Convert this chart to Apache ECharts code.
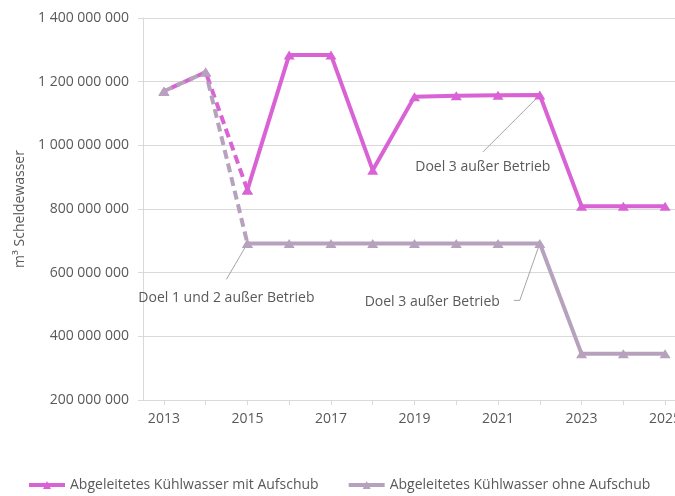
<!DOCTYPE html>
<html>
<head>
<meta charset="utf-8">
<script src="https://cdn.jsdelivr.net/npm/echarts@6/dist/echarts.min.js"></script>
<style>
  html, body { margin: 0; padding: 0; background: #fff; }
  #main { width: 675px; height: 496px; }
</style>
</head>
<body>
<div id="main"></div>
<script>
var years = ['2013', '2014', '2015', '2016', '2017', '2018', '2019', '2020', '2021', '2022', '2023', '2024', '2025'];
var mitAufschub = [1170e6, 1230e6, 860e6, 1284e6, 1284e6, 922e6, 1153e6, 1156e6, 1157e6, 1158e6, 809e6, 809e6, 809e6];
var ohneAufschub = [1170e6, 1230e6, 692e6, 692e6, 692e6, 692e6, 692e6, 692e6, 692e6, 692e6, 345e6, 345e6, 345e6];
var dashedUntil = 2; // index of 2015, end of the dashed part
var nameMit = 'Abgeleitetes Kühlwasser mit Aufschub';
var nameOhne = 'Abgeleitetes Kühlwasser ohne Aufschub';
var notes = [
  { series: 'ohne', index: 2, text: 'Doel 1 und 2 außer Betrieb' },
  { series: 'ohne', index: 9, text: 'Doel 3 außer Betrieb' },
  { series: 'mit', index: 9, text: 'Doel 3 außer Betrieb' }
];

var MAGENTA = '#d963d5';
var GREY = '#b7a2bd';
var FONT = 'Open Sans';

function part(arr, dashed) {
  return arr.map(function (v, i) {
    if (dashed) return i <= dashedUntil ? v : '-';
    return i >= dashedUntil ? v : '-';
  });
}

function fmt(v) {
  return String(v).replace(/\B(?=(\d{3})+(?!\d))/g, ' ');
}

function lineSeries(name, color, data, dashed, offset) {
  return {
    name: name,
    type: 'line',
    data: data,
    symbol: 'triangle',
    symbolSize: [11, 9],
    showAllSymbol: true,
    connectNulls: false,
    color: color,
    itemStyle: { color: color },
    lineStyle: {
      color: color,
      width: 4,
      type: dashed ? [9, 5] : 'solid',
      dashOffset: offset || 0,
      cap: 'butt'
    },
    emphasis: { disabled: true },
    animation: false
  };
}

var chart = echarts.init(document.getElementById('main'), null, { renderer: 'canvas' });

var option = {
  backgroundColor: '#ffffff',
  textStyle: { fontFamily: FONT },
  // plot runs past the right edge, like the cropped original
  grid: { left: 143, width: 543, top: 18, bottom: 96, outerBoundsMode: 'none', containLabel: false },
  legend: {
    data: [nameMit, nameOhne],
    left: 27,
    top: 478,
    padding: 0,
    itemWidth: 36,
    itemHeight: 10,
    itemGap: 28,
    lineStyle: { width: 4 },
    textStyle: { color: '#595959', fontSize: 14, fontFamily: FONT }
  },
  xAxis: {
    type: 'category',
    data: years,
    boundaryGap: true,
    axisLine: { lineStyle: { color: '#d9d9d9', width: 1 } },
    axisTick: { show: true, alignWithLabel: true, interval: 0, length: 5, lineStyle: { color: '#d9d9d9' } },
    axisLabel: { interval: 1, color: '#595959', fontSize: 14, margin: 12, fontFamily: FONT },
    splitLine: { show: false }
  },
  yAxis: {
    type: 'value',
    min: 200e6,
    max: 1400e6,
    interval: 200e6,
    name: 'm³ Scheldewasser',
    nameLocation: 'middle',
    nameRotate: 90,
    nameGap: 116,
    nameTextStyle: { color: '#595959', fontSize: 14, fontFamily: FONT },
    axisLine: { show: true, lineStyle: { color: '#d9d9d9', width: 1 } },
    axisTick: { show: true, length: 5, lineStyle: { color: '#d9d9d9' } },
    axisLabel: { color: '#595959', fontSize: 14, margin: 14, formatter: fmt, fontFamily: FONT },
    splitLine: { lineStyle: { color: '#d9d9d9', width: 1 } }
  },
  series: [
    lineSeries(nameMit + ' (gestrichelt)', MAGENTA, part(mitAufschub, true), true, 6),
    lineSeries(nameMit, MAGENTA, part(mitAufschub, false), false),
    lineSeries(nameOhne + ' (gestrichelt)', GREY, part(ohneAufschub, true), true, 0),
    lineSeries(nameOhne, GREY, part(ohneAufschub, false), false)
  ]
};

chart.setOption(option);

// leader lines: bend offsets from the point, text offset, text align
var noteStyle = [
  { pts: [[-21, 36]], text: [-21, 55], align: 'center' },
  { pts: [[-20, 57], [-26, 57]], text: [-40, 59], align: 'right' },
  { pts: [[-57, 57]], text: [-57, 72], align: 'center' }
];

var graphics = [];
notes.forEach(function (n, k) {
  var arr = n.series === 'mit' ? mitAufschub : ohneAufschub;
  var p = chart.convertToPixel({ xAxisIndex: 0, yAxisIndex: 0 }, [years[n.index], arr[n.index]]);
  var st = noteStyle[k];
  var pts = [[p[0], p[1]]].concat(st.pts.map(function (o) { return [p[0] + o[0], p[1] + o[1]]; }));
  graphics.push({
    type: 'polyline',
    shape: { points: pts },
    style: { stroke: '#a6a6a6', lineWidth: 1, fill: null },
    z: 1
  });
  graphics.push({
    type: 'text',
    x: p[0] + st.text[0],
    y: p[1] + st.text[1],
    style: {
      text: n.text,
      fill: '#595959',
      font: '14px "' + FONT + '"',
      textAlign: st.align,
      textVerticalAlign: 'middle'
    },
    z: 10
  });
});
chart.setOption({ graphic: graphics });
</script>
</body>
</html>
